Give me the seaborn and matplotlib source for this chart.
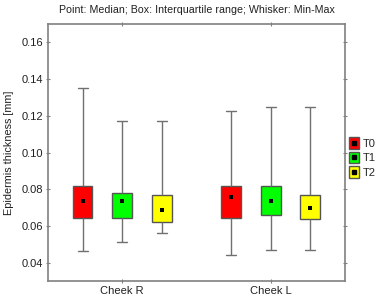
import matplotlib
matplotlib.use("Agg")
import matplotlib.pyplot as plt
import seaborn as sns
import pandas as pd
from matplotlib.patches import Rectangle
from matplotlib.lines import Line2D
from matplotlib.legend_handler import HandlerBase

# Summary values: [min, q1, median, q3, max]
sites = ["Cheek R", "Cheek L"]
times = ["T0", "T1", "T2"]
colors = ["#ff0000", "#00ff00", "#ffff00"]

cheek_r_t0 = [0.0462, 0.0645, 0.0735, 0.0817, 0.1350]
cheek_r_t1 = [0.0513, 0.0645, 0.0735, 0.0780, 0.1170]
cheek_r_t2 = [0.0563, 0.0623, 0.0685, 0.0768, 0.1170]
cheek_l_t0 = [0.0440, 0.0641, 0.0757, 0.0819, 0.1229]
cheek_l_t1 = [0.0469, 0.0659, 0.0735, 0.0819, 0.1248]
cheek_l_t2 = [0.0469, 0.0636, 0.0697, 0.0768, 0.1248]

summaries = {
    ("Cheek R", "T0"): cheek_r_t0, ("Cheek R", "T1"): cheek_r_t1, ("Cheek R", "T2"): cheek_r_t2,
    ("Cheek L", "T0"): cheek_l_t0, ("Cheek L", "T1"): cheek_l_t1, ("Cheek L", "T2"): cheek_l_t2,
}

rows = []
med_rows = []
for (site, t), vals in summaries.items():
    for v in vals:
        rows.append({"site": site, "time": t, "value": v})
    med_rows.append({"site": site, "time": t, "value": vals[2]})
df = pd.DataFrame(rows)
dfm = pd.DataFrame(med_rows)

sns.set_style("white")
plt.rcParams["font.family"] = ["Liberation Sans", "DejaVu Sans"]

fig = plt.figure(figsize=(3.8, 2.98), dpi=100)
ax = fig.add_axes([0.126, 0.057, 0.782, 0.862])

edge = "#555555"
sns.boxplot(data=df, x="site", y="value", hue="time", order=sites, hue_order=times,
            palette=colors, saturation=1, width=0.8, gap=0.5, whis=(0, 100),
            linecolor=edge, linewidth=1.0, showfliers=False,
            medianprops={"visible": False},
            whiskerprops={"color": "#707070", "linewidth": 1.0},
            capprops={"color": "#707070", "linewidth": 1.0},
            legend=False, ax=ax)
sns.stripplot(data=dfm, x="site", y="value", hue="time", order=sites, hue_order=times,
              dodge=True, jitter=False, palette=["black"] * 3, marker="s", size=3.4,
              linewidth=0, legend=False, ax=ax)

ax.set_xlim(-0.5, 1.5)
ax.set_ylim(0.03, 0.17)
yt = [0.04, 0.06, 0.08, 0.10, 0.12, 0.14, 0.16]
ax.set_yticks(yt)
ax.set_yticklabels([f"{v:.2f}" for v in yt])
ax.set_xlabel("")
ax.set_ylabel("Epidermis thickness [mm]", fontsize=7.8, color="#202020", labelpad=5)
ax.set_title("Point: Median; Box: Interquartile range; Whisker: Min-Max",
             fontsize=7.7, color="#202020", pad=8)

for s in ax.spines.values():
    s.set_visible(True)
    s.set_color("#808080")
    s.set_linewidth(1.2)
ax.tick_params(axis="both", which="both", direction="inout", length=3, width=0.8,
               color="#808080", labelsize=8, labelcolor="#202020",
               top=True, right=True, bottom=True, left=True, pad=2)


class BoxMarkerHandler(HandlerBase):
    def create_artists(self, legend, orig_handle, xdescent, ydescent, width, height,
                       fontsize, trans):
        w = 7.2
        h = 8.6
        cx = width / 2 - xdescent
        cy = height / 2 - ydescent
        rect = Rectangle((cx - w / 2, cy - h / 2), w, h,
                         facecolor=orig_handle.get_facecolor(),
                         edgecolor=edge, linewidth=1.0, transform=trans)
        mk = Line2D([cx], [cy], marker="s", color="black", linestyle="none",
                    markersize=3, transform=trans)
        return [rect, mk]


handles = [Rectangle((0, 0), 1, 1, facecolor=c) for c in colors]
leg = ax.legend(handles, times,
                handler_map={Rectangle: BoxMarkerHandler()},
                loc="center left", bbox_to_anchor=(1.0, 0.48), frameon=False,
                fontsize=8, handlelength=0.9, handleheight=1.1, handletextpad=0.3,
                labelspacing=0.3, borderaxespad=0.0, borderpad=0.4)

fig.savefig("out.png", dpi=100)
